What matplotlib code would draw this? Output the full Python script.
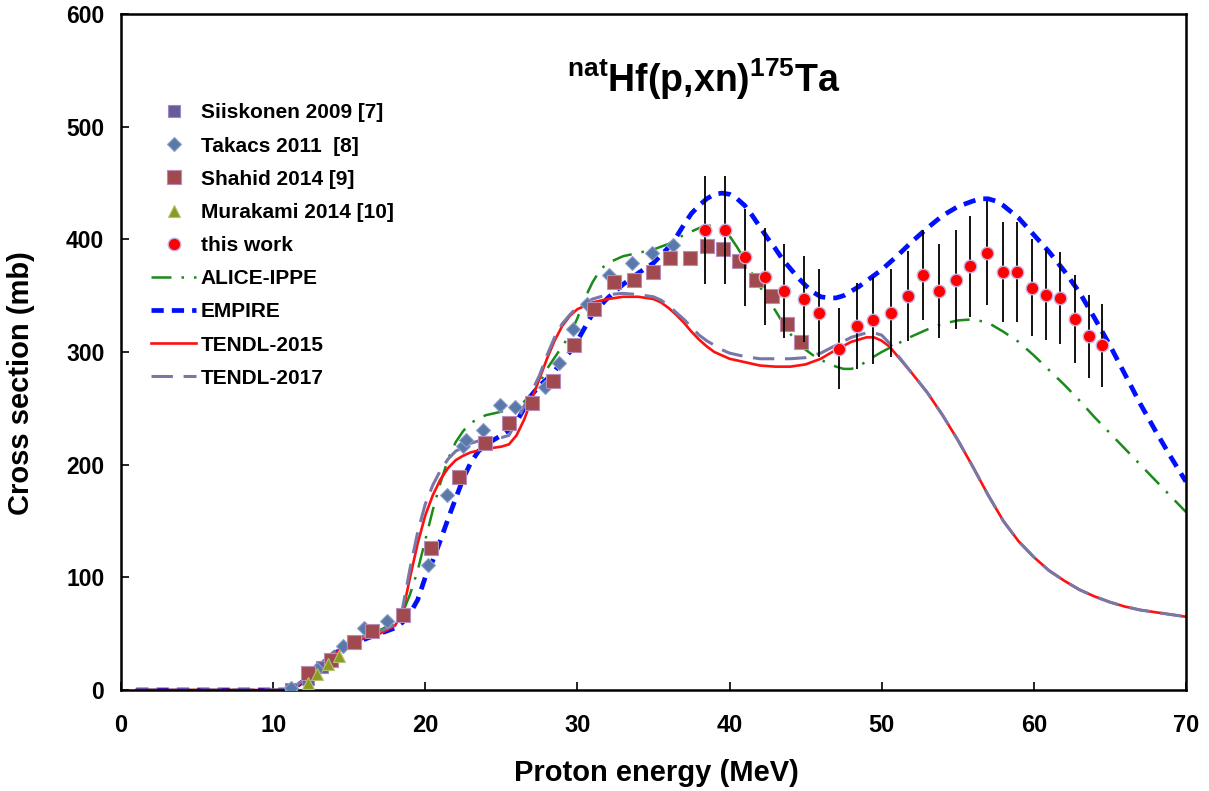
import matplotlib
matplotlib.use('Agg')
import matplotlib.pyplot as plt

# ---- data ----
# theory curves (Proton energy MeV, cross section mb)
tendl15_x = [1, 2, 3, 4, 5, 6, 7, 8, 9, 10, 11, 11.5, 12, 13, 14, 15, 16, 17, 18, 18.5, 19, 19.5, 20,
             20.5, 21, 21.5, 22, 22.5, 23, 24, 25, 25.5, 26, 26.5, 27, 27.5, 28, 28.5, 29, 29.5, 30,
             31, 32, 33, 34, 35, 35.5, 36, 36.5, 37, 37.5, 38, 38.5, 39, 39.5, 40, 41, 42, 43, 44, 45,
             46, 47, 48, 49, 49.5, 50, 50.5, 51, 52, 53, 54, 55, 56, 57, 58, 59, 60, 61, 62, 63, 64,
             65, 66, 67, 68, 69, 70]
tendl15_y = [0, 0, 0, 0, 0, 0, 0, 0, 0, 0, 0, 3, 8, 20, 32, 40, 46, 50, 57, 68, 100, 130, 155,
             173, 187, 197, 204, 208, 211, 214, 216, 218, 226, 240, 258, 276, 294, 310, 323, 332, 338,
             344, 347, 349, 349, 347, 344, 339, 333, 326, 318, 311, 305, 300, 297, 294, 291, 288, 287, 287, 289,
             294, 302, 309, 313, 313, 310, 305, 297, 281, 264, 244, 222, 198, 173, 150, 132, 118, 106, 97, 89, 83,
             78, 74, 71, 69, 67, 65]

tendl17_x = [1, 2, 3, 4, 5, 6, 7, 8, 9, 10, 11, 11.5, 12, 13, 14, 15, 16, 17, 18, 18.5, 19, 19.5, 20,
             20.5, 21, 21.5, 22, 23, 24, 25, 25.5, 26, 26.5, 27, 27.5, 28, 28.5, 29, 29.5, 30,
             31, 32, 33, 34, 35, 35.5, 36, 36.5, 37, 37.5, 38, 38.5, 39, 39.5, 40, 41, 42, 43, 44, 45,
             46, 47, 48, 49, 49.5, 50, 50.5, 51, 52, 53, 54, 55, 56, 57, 58, 59, 60, 61, 62, 63, 64,
             65, 66, 67, 68, 69, 70]
tendl17_y = [0, 0, 0, 0, 0, 0, 0, 0, 0, 0, 0, 4, 9, 22, 34, 42, 48, 52, 58, 72, 108, 140, 165,
             182, 195, 205, 212, 219, 223, 224, 226, 238, 252, 265, 279, 297, 313, 325, 333, 340,
             347, 351, 352, 351, 349, 346, 341, 335, 329, 322, 315, 310, 306, 302, 299, 296, 294, 294, 294, 295,
             299, 306, 313, 317, 317, 315, 308, 298, 281, 264, 244, 222, 198, 173, 150, 132, 118, 106, 97, 89, 83,
             78, 74, 71, 69, 67, 65]

empire_x = [1, 2, 3, 4, 5, 6, 7, 8, 9, 10, 11, 11.5, 12, 13, 14, 15, 16, 17, 18, 18.5, 19, 19.5, 20,
            20.5, 21, 21.5, 22, 22.5, 23, 23.5, 24, 24.5, 25, 25.5, 26, 26.5, 27, 27.5, 28, 28.5, 29,
            29.5, 30, 30.5, 31, 32, 33, 34, 35, 36, 36.5, 37, 37.5, 38, 38.5, 39, 39.5, 40, 40.5, 41,
            41.5, 42, 42.5, 43, 43.5, 44, 44.5, 45, 45.5, 46, 46.5, 47, 47.5, 48, 48.5, 49, 50, 51, 52,
            53, 54, 55, 56, 56.5, 57, 57.5, 58, 59, 60, 61, 62, 63, 64, 65, 66, 67, 68, 69, 70]
empire_y = [0, 0, 0, 0, 0, 0, 0, 0, 0, 0, 0, 3, 8, 20, 32, 40, 45, 50, 55, 60, 68, 80, 100,
            115, 133, 152, 170, 188, 202, 212, 218, 222, 226, 231, 238, 250, 262, 270, 276, 283, 292,
            300, 310, 322, 334, 348, 360, 370, 379, 393, 402, 413, 423, 430, 436, 440, 441, 440, 436, 430,
            421, 411, 401, 392, 382, 374, 366, 359, 353, 349, 348, 348, 350, 354, 358, 363, 373, 385, 398,
            410, 421, 429, 434, 436, 436, 434, 430, 419, 404, 389, 372, 353, 330, 306, 280, 254, 230, 207, 185]

alice_x = [1, 2, 3, 4, 5, 6, 7, 8, 9, 10, 11, 11.5, 12, 13, 14, 15, 16, 17, 18, 18.5, 19, 19.5, 20,
           20.5, 21, 21.5, 22, 22.5, 23, 23.5, 24, 25, 26, 26.5, 27, 27.5, 28, 28.5, 29, 29.5, 30,
           30.5, 31, 31.5, 32, 33, 34, 35, 36, 36.5, 37, 38, 38.5, 39, 39.5, 40, 40.5, 41, 41.5, 42,
           42.5, 43, 43.5, 44, 44.5, 45, 45.5, 46, 46.5, 47, 47.5, 48, 48.5, 49, 49.5, 50, 51, 52,
           53, 54, 55, 56, 57, 58, 59, 60, 61, 62, 63, 64, 65, 66, 67, 68, 69, 70]
alice_y = [0, 0, 0, 0, 0, 0, 0, 0, 0, 0, 0, 3, 9, 21, 33, 42, 48, 53, 60, 68, 85, 106, 133,
           160, 184, 205, 220, 230, 237, 241, 244, 247, 251, 256, 263, 272, 285, 295, 305, 315, 330,
           348, 362, 373, 379, 385, 388, 391, 396, 400, 404, 410, 412, 412, 410, 403, 393, 382, 369, 358,
           347, 337, 326, 316, 308, 302, 297, 293, 290, 287, 285, 285, 287, 292, 296, 300, 307, 314,
           320, 325, 328, 329, 326, 318, 309, 297, 284, 271, 257, 242, 228, 214, 200, 186, 172, 158]

# experimental data
siis_x = [11.2, 12.3, 13.2]
siis_y = [1, 10, 20]

takacs_x = [11.15, 12.9, 14.6, 16.0, 17.5, 20.2, 21.4, 22.45, 22.7, 23.8, 24.9, 25.9, 27.9, 28.8,
            29.7, 30.6, 32.1, 33.6, 34.9, 36.3]
takacs_y = [2, 19, 39, 55, 61, 111, 173, 217, 222, 231, 253, 251, 269, 290,
            320, 343, 368, 379, 388, 395]

shahid_x = [12.3, 13.8, 15.3, 16.5, 18.55, 20.4, 22.2, 23.9, 25.5, 27.0, 28.4, 29.8, 31.1, 32.4,
            33.7, 35.0, 36.1, 37.4, 38.5, 39.6, 40.6, 41.75, 42.8, 43.75, 44.7]
shahid_y = [15, 27, 43, 52, 67, 126, 189, 219, 237, 255, 274, 306, 338, 362,
            364, 371, 383, 383, 394, 391, 381, 364, 350, 325, 309]

murakami_x = [12.3, 12.9, 13.6, 14.3]
murakami_y = [6, 14, 23, 30]

tw_x = [38.4, 39.7, 41.0, 42.3, 43.6, 44.9, 45.9, 47.2, 48.4, 49.4, 50.6, 51.7, 52.7, 53.8, 54.9,
        55.8, 56.9, 57.95, 58.9, 59.9, 60.8, 61.7, 62.7, 63.6, 64.5]
tw_y = [408, 408, 384, 367, 354, 347, 335, 303, 323, 328, 335, 350, 368, 354, 364,
        376, 388, 371, 371, 357, 351, 348, 329, 314, 306]
tw_err = [48, 48, 43, 43, 42, 38, 39, 36, 38, 39, 39, 40, 40, 42, 44,
          45, 46, 44, 44, 43, 40, 41, 39, 37, 37]

plt.rcParams['font.family'] = ['Liberation Sans', 'DejaVu Sans']
plt.rcParams['font.weight'] = 'bold'
plt.rcParams['mathtext.fontset'] = 'custom'
plt.rcParams['mathtext.bf'] = 'Liberation Sans:bold'
plt.rcParams['mathtext.rm'] = 'Liberation Sans:bold'

fig = plt.figure(figsize=(12.09, 7.91), dpi=100)
ax = fig.add_axes([0.1001, 0.1277, 0.8808, 0.8546])

# theory lines
ax.plot(alice_x, alice_y, color='#1a8a1a', lw=1.8, ls=(0, (8, 4, 1, 4)), label='ALICE-IPPE', zorder=2)
ax.plot(empire_x, empire_y, color='#0010ff', lw=3.4, ls=(0, (2.6, 1.7)), label='EMPIRE', zorder=2)
ax.plot(tendl15_x, tendl15_y, color='#ff1010', lw=1.9, ls='-', label='TENDL-2015', zorder=2)
ax.plot(tendl17_x, tendl17_y, color='#7878a8', lw=2.2, ls=(0, (7, 3.5)), label='TENDL-2017', zorder=2)

# experiments
ax.plot(siis_x, siis_y, ls='none', marker='s', ms=9, color='#6a5a9a',
        mec='#9a8ac8', mew=0.8, label='Siiskonen 2009 [7]', zorder=3)
ax.plot(takacs_x, takacs_y, ls='none', marker='D', ms=7.5, color='#5a78aa',
        mec='#8aa0c8', mew=0.8, label='Takacs 2011  [8]', zorder=3)
ax.plot(shahid_x, shahid_y, ls='none', marker='s', ms=10, color='#a04a50',
        mec='#b88cb8', mew=0.8, label='Shahid 2014 [9]', zorder=4)
ax.plot(murakami_x, murakami_y, ls='none', marker='^', ms=9, color='#8c9a24',
        mec='#b8c070', mew=0.8, label='Murakami 2014 [10]', zorder=4)
ax.errorbar(tw_x, tw_y, yerr=tw_err, fmt='none', ecolor='black', elinewidth=1.3, capsize=0, zorder=5)
ax.plot(tw_x, tw_y, ls='none', marker='o', ms=9, color='#ff0000',
        mec='#c8b0e0', mew=1.0, label='this work', zorder=6)

ax.set_xlim(0, 70)
ax.set_ylim(0, 600)
ax.set_xticks(range(0, 71, 10))
ax.set_yticks(range(0, 601, 100))
ax.tick_params(direction='in', length=6, width=1.2, top=False, right=False)
ax.tick_params(axis='x', pad=17)
ax.tick_params(axis='y', pad=12)
for lab in ax.get_xticklabels():
    lab.set_fontsize(17)
    lab.set_fontweight('bold')
for lab in ax.get_yticklabels():
    lab.set_fontsize(16.5)
    lab.set_fontweight('bold')
for sp in ax.spines.values():
    sp.set_linewidth(1.8)

ax.set_xlabel('Proton energy (MeV)', fontsize=21, fontweight='bold')
ax.xaxis.set_label_coords(0.503, -0.102)
ax.set_ylabel('Cross section (mb)', fontsize=21, fontweight='bold')
ax.yaxis.set_label_coords(-0.081, 0.454)

ax.text(0.547, 0.903, r'$\mathbf{^{nat}Hf(p{,}xn)^{175}Ta}$', transform=ax.transAxes,
        fontsize=27, ha='center', va='center')

handles, labels = ax.get_legend_handles_labels()
order = ['Siiskonen 2009 [7]', 'Takacs 2011  [8]', 'Shahid 2014 [9]', 'Murakami 2014 [10]',
         'this work', 'ALICE-IPPE', 'EMPIRE', 'TENDL-2015', 'TENDL-2017']
hd = dict(zip(labels, handles))
ax.legend([hd[k] for k in order], order, loc='upper left', bbox_to_anchor=(0.02, 0.880),
          frameon=False, handlelength=2.2, handletextpad=0.2,
          labelspacing=0.68, borderaxespad=0, prop={'weight': 'bold', 'size': 15})

fig.savefig('out.png', dpi=100)
